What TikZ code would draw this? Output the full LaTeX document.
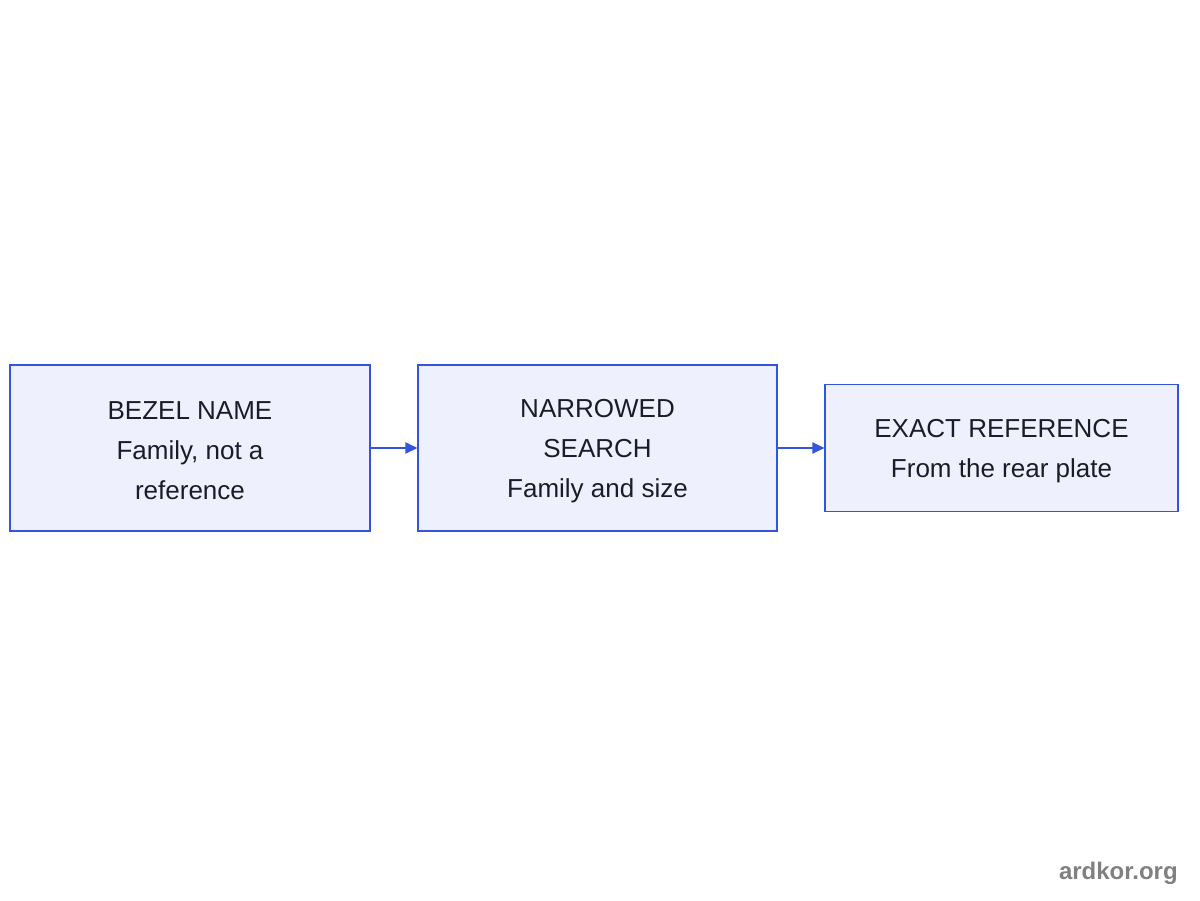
\documentclass[tikz,border=0pt]{standalone}
\usepackage{fontspec}
\setmainfont{Liberation Sans}
\usetikzlibrary{arrows.meta}
\definecolor{boxfill}{HTML}{EEF1FD}
\definecolor{boxline}{HTML}{3355DD}
\definecolor{txt}{HTML}{1C1C28}
\definecolor{wm}{HTML}{808080}
\begin{document}
\begin{tikzpicture}[x=0.75pt,y=-0.75pt,
  flowbox/.style={draw=boxline,fill=boxfill,line width=0.9pt,inner sep=0pt},
  flowtext/.style={align=center,text=txt,font=\fontsize{19.5}{30}\selectfont,inner sep=0pt,yshift=-2.3pt},
  flowarrow/.style={draw=boxline,line width=0.9pt,-{Triangle[length=9pt,width=8.5pt]}}]
\useasboundingbox[fill=white] (0,0) rectangle (1200,900);
\node[flowbox,minimum width=270pt,minimum height=124.5pt,label={[flowtext]center:BEZEL NAME\\Family, not a\\reference}] (a) at (190,448) {};
\node[flowbox,minimum width=269.25pt,minimum height=124.5pt,label={[flowtext]center:NARROWED\\SEARCH\\Family and size}] (b) at (597.5,448) {};
\node[flowbox,minimum width=264.75pt,minimum height=95.25pt,label={[flowtext]center:EXACT REFERENCE\\From the rear plate}] (c) at (1001.5,448) {};
\draw[flowarrow] (a.east) -- (b.west);
\draw[flowarrow] (b.east) -- (c.west);
\node[anchor=base east,inner sep=0pt,text=wm,font=\fontsize{18}{20}\selectfont\bfseries] (w) at (1178,879) {ardkor.org};
\end{tikzpicture}
\end{document}
